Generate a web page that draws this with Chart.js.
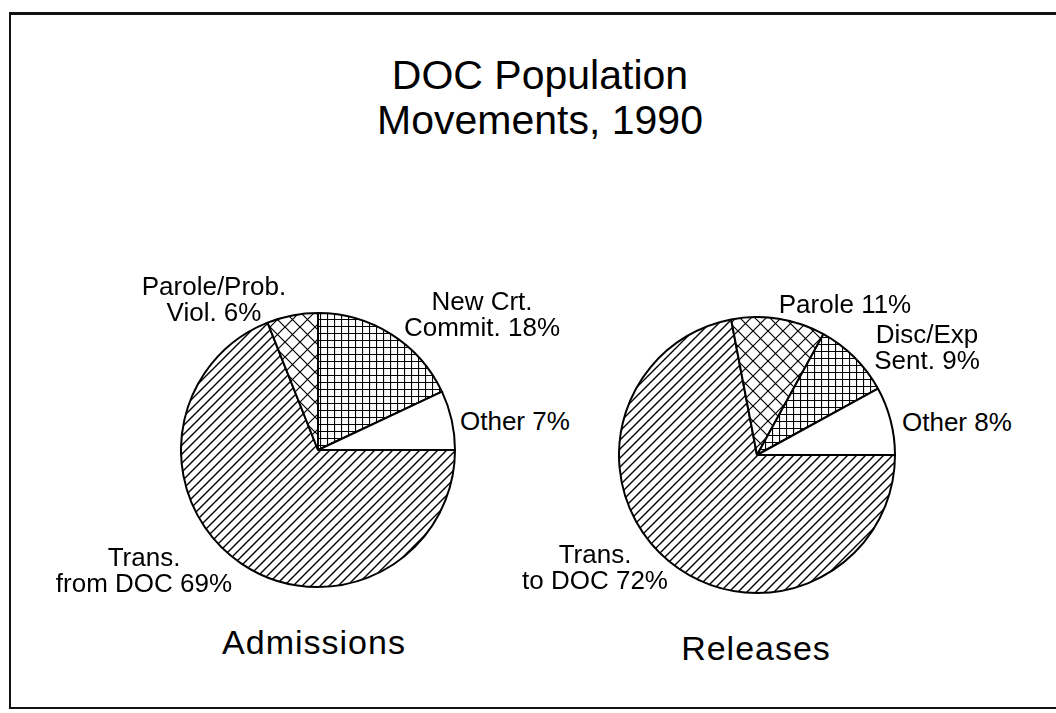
<!DOCTYPE html>
<html>
<head>
<meta charset="utf-8">
<title>DOC Population Movements, 1990</title>
<script src="https://cdn.jsdelivr.net/npm/chart.js@4/dist/chart.umd.min.js"></script>
<style>
  body { margin: 0; background: #fff; font-family: "Liberation Sans", Arial, sans-serif; color: #000; }
  #page { position: relative; width: 1056px; height: 713px; overflow: hidden; }
  #frame { position: absolute; left: 9px; top: 12px; width: 1060px; height: 692px;
           border-left: 2px solid #111; border-top: 3px solid #111; border-bottom: 2px solid #111; }
  .title { position: absolute; left: 0; width: 1080px; top: 53px; text-align: center;
           font-size: 41px; line-height: 45px; }
  .pie { position: absolute; }
  .lbl { position: absolute; font-size: 26px; line-height: 26px; white-space: nowrap; }
  .lbl.c { text-align: center; transform: translateX(-50%); }
  .cap { position: absolute; font-size: 34px; line-height: 34px; letter-spacing: 1px;
         transform: translateX(-50%); white-space: nowrap; }
</style>
</head>
<body>
<div id="page">
  <div id="frame"></div>
  <div class="title">DOC Population<br>Movements, 1990</div>

  <div class="pie" style="left:180px; top:312px; width:276px; height:276px;">
    <canvas id="admisiones" width="276" height="276"></canvas>
  </div>
  <div class="pie" style="left:618px; top:316px; width:278px; height:278px;">
    <canvas id="salidas" width="278" height="278"></canvas>
  </div>

  <div id="admLabels"></div>
  <div id="relLabels"></div>

  <div class="cap" style="left:314px; top:625px;">Admissions</div>
  <div class="cap" style="left:756px; top:631px;">Releases</div>
</div>

<script>
// datos, en el orden de las porciones (contrarreloj desde las 3 en punto)
const admCategories = ['Other', 'New Crt. Commit.', 'Parole/Prob. Viol.', 'Trans. from DOC'];
const admValues = [7, 18, 6, 69];
const admLabelLines = [['Other'], ['New Crt.', 'Commit.'], ['Parole/Prob.', 'Viol.'], ['Trans.', 'from DOC']];

const relCategories = ['Other', 'Disc/Exp Sent.', 'Parole', 'Trans. to DOC'];
const relValues = [8, 9, 11, 72];
const relLabelLines = [['Other'], ['Disc/Exp', 'Sent.'], ['Parole'], ['Trans.', 'to DOC']];

// tipo de relleno de cada porción
const fills = ['none', 'grid', 'diamond', 'diagonal'];

// posiciones de las etiquetas [x, y, centrado]
const admLabelPos = [[460, 408, false], [482, 288, true], [214, 273, true], [144, 544, true]];
const relLabelPos = [[902, 409, false], [927, 321, true], [845, 291, true], [595, 541, true]];

function makePattern(kind) {
    if (kind === 'none') return '#ffffff';
    const size = kind === 'diamond' ? 15 : (kind === 'grid' ? 7 : 9);
    const c = document.createElement('canvas');
    c.width = size;
    c.height = size;
    const g = c.getContext('2d');
    g.fillStyle = '#fff';
    g.fillRect(0, 0, size, size);
    g.strokeStyle = '#000';
    g.lineWidth = kind === 'diagonal' ? 1.4 : 1.2;
    g.beginPath();
    if (kind === 'grid') {
        g.moveTo(0.5, 0); g.lineTo(0.5, size);
        g.moveTo(0, 0.5); g.lineTo(size, 0.5);
    } else {
        // "/" con sus esquinas para que el patrón no tenga cortes
        g.moveTo(0, size); g.lineTo(size, 0);
        g.moveTo(-2, 2); g.lineTo(2, -2);
        g.moveTo(size - 2, size + 2); g.lineTo(size + 2, size - 2);
        if (kind === 'diamond') {
            g.moveTo(0, 0); g.lineTo(size, size);
            g.moveTo(-2, size - 2); g.lineTo(2, size + 2);
            g.moveTo(size - 2, -2); g.lineTo(size + 2, 2);
        }
    }
    g.stroke();
    return g.createPattern(c, 'repeat');
}

function drawPie(id, categories, values) {
    const ctx = document.getElementById(id).getContext('2d');
    // Chart.js avanza en sentido horario, así que se invierte el orden
    return new Chart(ctx, {
        type: 'pie',
        data: {
            labels: categories.slice().reverse(),
            datasets: [{
                data: values.slice().reverse(),
                backgroundColor: fills.map(makePattern).reverse(),
                borderColor: '#000',
                borderWidth: 2
            }]
        },
        options: {
            responsive: false,
            animation: false,
            rotation: 90,
            layout: { padding: 0 },
            plugins: {
                legend: { display: false },
                tooltip: { enabled: false }
            }
        }
    });
}

function writeLabels(boxId, lines, values, positions) {
    const box = document.getElementById(boxId);
    lines.forEach(function(l, i) {
        const div = document.createElement('div');
        const text = l.slice();
        text[text.length - 1] = text[text.length - 1] + ' ' + values[i] + '%';
        div.className = positions[i][2] ? 'lbl c' : 'lbl';
        div.style.left = positions[i][0] + 'px';
        div.style.top = positions[i][1] + 'px';
        div.innerHTML = text.join('<br>');
        box.appendChild(div);
    });
}

document.addEventListener('DOMContentLoaded', function() {
    drawPie('admisiones', admCategories, admValues);
    drawPie('salidas', relCategories, relValues);
    writeLabels('admLabels', admLabelLines, admValues, admLabelPos);
    writeLabels('relLabels', relLabelLines, relValues, relLabelPos);
});
</script>
</body>
</html>
